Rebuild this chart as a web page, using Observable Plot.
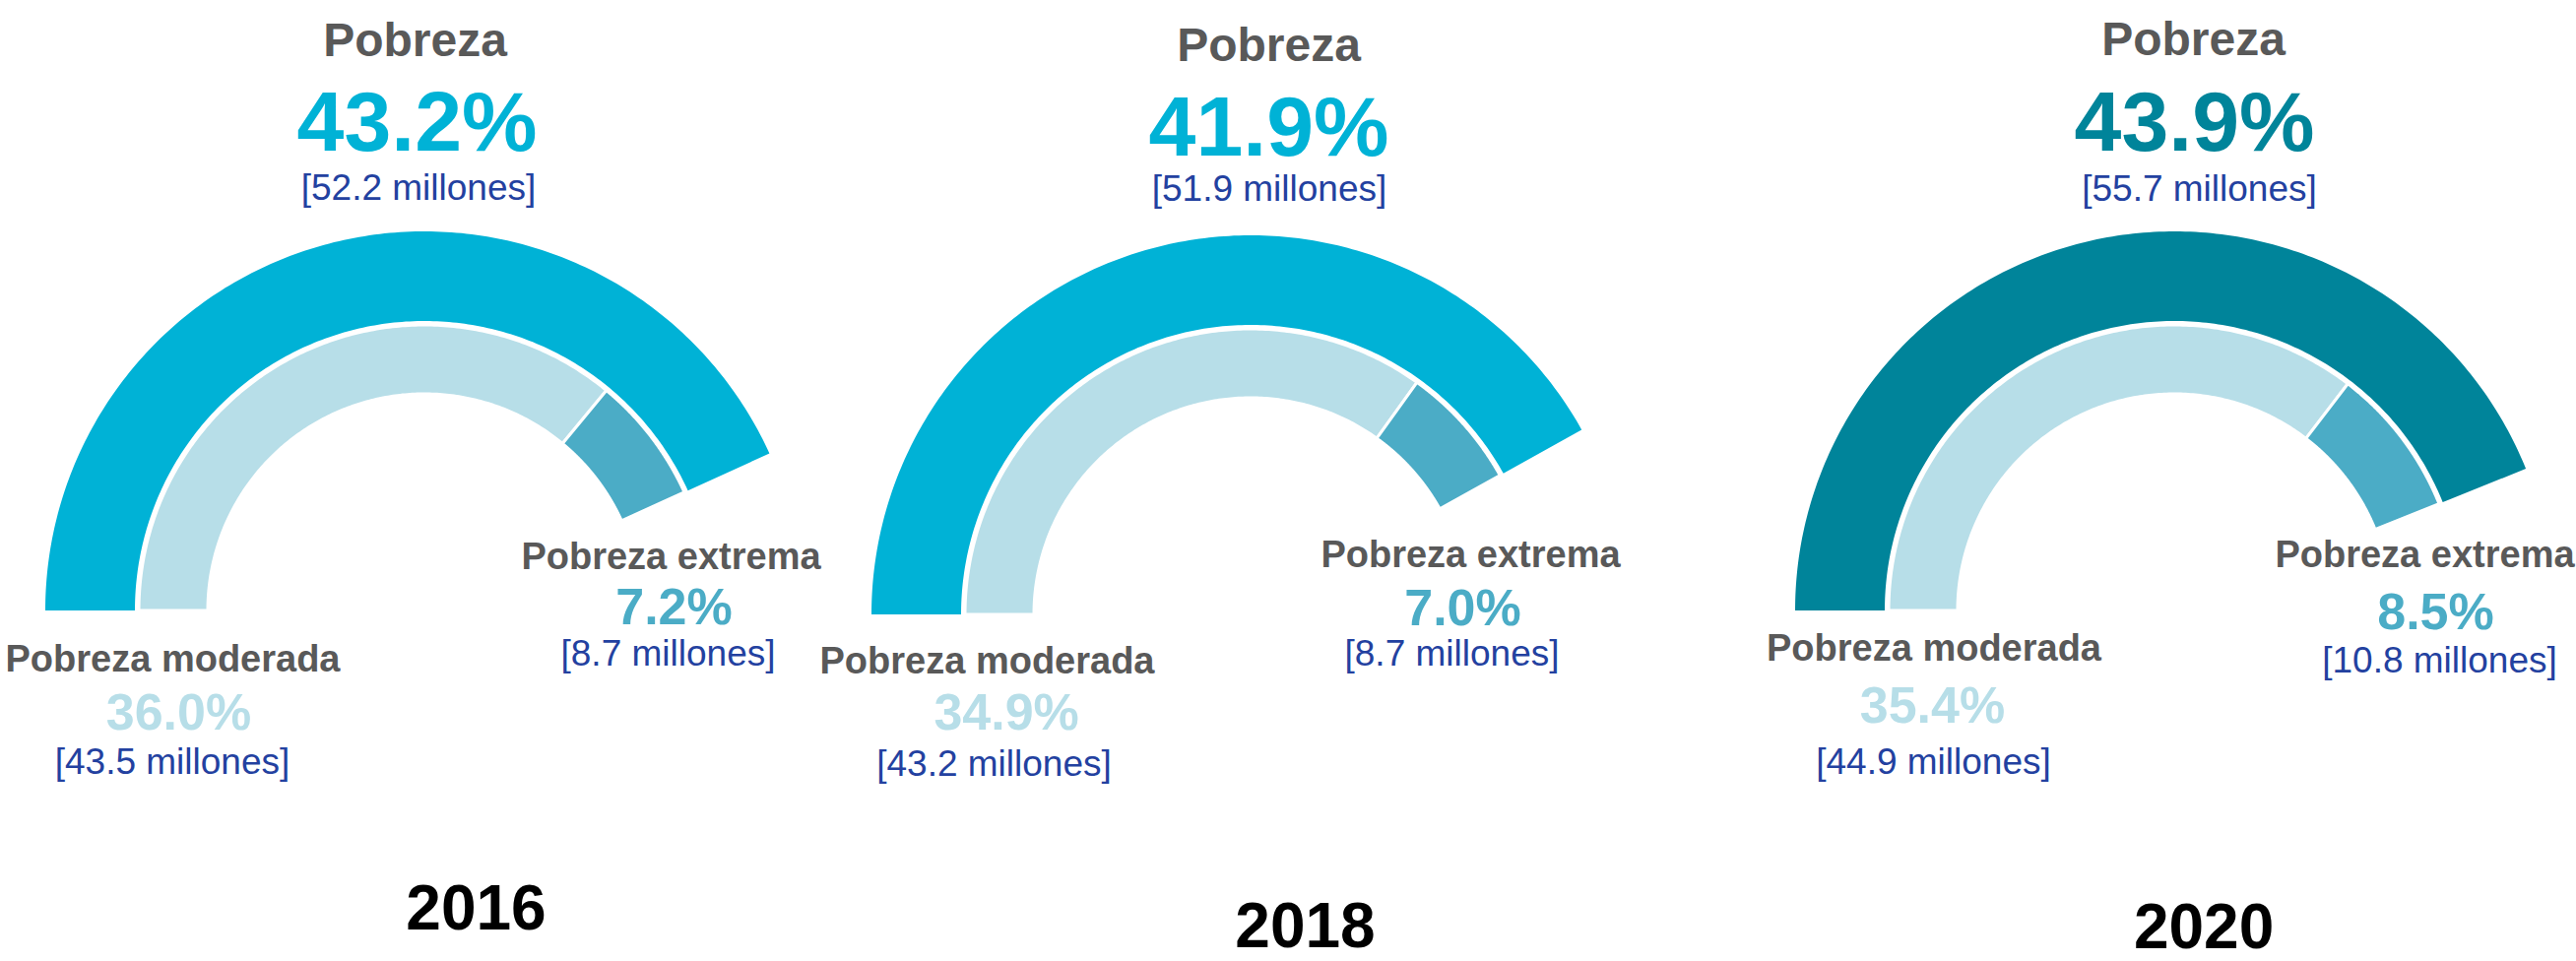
<!DOCTYPE html>
<html><head><meta charset="utf-8">
<script src="https://cdn.jsdelivr.net/npm/d3@7"></script>
<script src="https://cdn.jsdelivr.net/npm/@observablehq/plot@0.6"></script>
<style>html,body{margin:0;padding:0;background:#fff;overflow:hidden}</style>
</head><body><div id="chart"></div>
<script>
// ---- data ----
const years = ["2016", "2018", "2020"];
const pobreza = [43.2, 41.9, 43.9];
const pobrezaMill = [52.2, 51.9, 55.7];
const moderada = [36.0, 34.9, 35.4];
const moderadaMill = [43.5, 43.2, 44.9];
const extrema = [7.2, 7.0, 8.5];
const extremaMill = [8.7, 8.7, 10.8];
const labelPobreza = "Pobreza";
const labelModerada = "Pobreza moderada";
const labelExtrema = "Pobreza extrema";

// ---- layout & style ----
const W = 2616, H = 976;
const FONT = "'Liberation Sans', Arial, Helvetica, sans-serif";
const outerColor = ["#00B2D6", "#00B2D6", "#00849A"];
const modColor = "#B7DEE8", extColor = "#4BACC6";
const grayText = "#595959", blueText = "#2341A0";
const R_OUT = [294, 385], R_IN = [220, 290];
const layout = [
  {cx: 431, cy: 620, title: [421, 56], big: [423, 152], mill: [424.5, 202],
   modL: [175, 681], modP: [181, 740], modM: [174.5, 785],
   extL: [681, 577], extP: [684, 633], extM: [678, 675], year: [483, 943]},
  {cx: 1270, cy: 624, title: [1288, 61], big: [1288, 157], mill: [1288.5, 203],
   modL: [1002, 683], modP: [1021.6, 740.5], modM: [1009, 787],
   extL: [1493, 575.6], extP: [1485, 634.7], extM: [1474, 675], year: [1325, 961]},
  {cx: 2208, cy: 620, title: [2227, 55], big: [2228, 152.5], mill: [2233, 203],
   modL: [1963.5, 670], modP: [1962, 733], modM: [1963, 785],
   extL: [2462, 575.6], extP: [2473, 638], extM: [2477, 682.6], year: [2237.6, 962]}
];

// arc band sampled along the angle; 100% = full circle, starting at the left, clockwise
function band(key, L, p0, p1, r, fill) {
  const n = 200, rows = [];
  for (let k = 0; k <= n; k++) {
    const p = p0 + (p1 - p0) * k / n;
    const phi = Math.PI - 2 * Math.PI * p / 100;
    rows.push({key, fill,
      x1: L.cx + r[0] * Math.cos(phi), y1: L.cy - r[0] * Math.sin(phi),
      x2: L.cx + r[1] * Math.cos(phi), y2: L.cy - r[1] * Math.sin(phi)});
  }
  return rows;
}

const outerRows = [], innerRows = [];
years.forEach((y, i) => {
  const L = layout[i];
  outerRows.push(...band(y + "-pob", L, 0, pobreza[i], R_OUT, outerColor[i]));
  innerRows.push(...band(y + "-mod", L, 0, moderada[i], R_IN, modColor));
  innerRows.push(...band(y + "-ext", L, moderada[i], moderada[i] + extrema[i], R_IN, extColor));
});

const pct = v => v.toFixed(1) + "%";
const mill = v => "[" + v.toFixed(1) + " millones]";
const T = {title: [], big: [], mill: [], cat: [], sub: [], year: []};
years.forEach((y, i) => {
  const L = layout[i];
  T.title.push({x: L.title[0], y: L.title[1], text: labelPobreza, c: grayText});
  T.big.push({x: L.big[0], y: L.big[1], text: pct(pobreza[i]), c: outerColor[i]});
  T.mill.push({x: L.mill[0], y: L.mill[1], text: mill(pobrezaMill[i]), c: blueText});
  T.cat.push({x: L.modL[0], y: L.modL[1], text: labelModerada, c: grayText});
  T.cat.push({x: L.extL[0], y: L.extL[1], text: labelExtrema, c: grayText});
  T.sub.push({x: L.modP[0], y: L.modP[1], text: pct(moderada[i]), c: modColor});
  T.sub.push({x: L.extP[0], y: L.extP[1], text: pct(extrema[i]), c: extColor});
  T.mill.push({x: L.modM[0], y: L.modM[1], text: mill(moderadaMill[i]), c: blueText});
  T.mill.push({x: L.extM[0], y: L.extM[1], text: mill(extremaMill[i]), c: blueText});
  T.year.push({x: L.year[0], y: L.year[1], text: y, c: "#000000"});
});

const txt = (rows, size, weight) => Plot.text(rows, {
  x: "x", y: "y", text: "text", fill: "c", fontSize: size, fontWeight: weight,
  fontFamily: FONT, textAnchor: "middle", lineAnchor: "bottom"
});

const chart = Plot.plot({
  width: W, height: H, margin: 0,
  x: {domain: [0, W], range: [0, W], axis: null},
  y: {domain: [0, H], range: [0, H], axis: null},
  color: {type: "identity"},
  style: {fontFamily: FONT, background: "#fff"},
  marks: [
    Plot.area(outerRows, {x1: "x1", y1: "y1", x2: "x2", y2: "y2", z: "key", fill: "fill"}),
    Plot.area(innerRows, {x1: "x1", y1: "y1", x2: "x2", y2: "y2", z: "key", fill: "fill",
      stroke: "white", strokeWidth: 3}),
    txt(T.title, 48, "bold"),
    txt(T.big, 86, "bold"),
    txt(T.mill, 37, "normal"),
    txt(T.cat, 38, "bold"),
    txt(T.sub, 52, "bold"),
    txt(T.year, 64, "bold")
  ]
});
document.getElementById("chart").appendChild(chart);
</script>
</body></html>
